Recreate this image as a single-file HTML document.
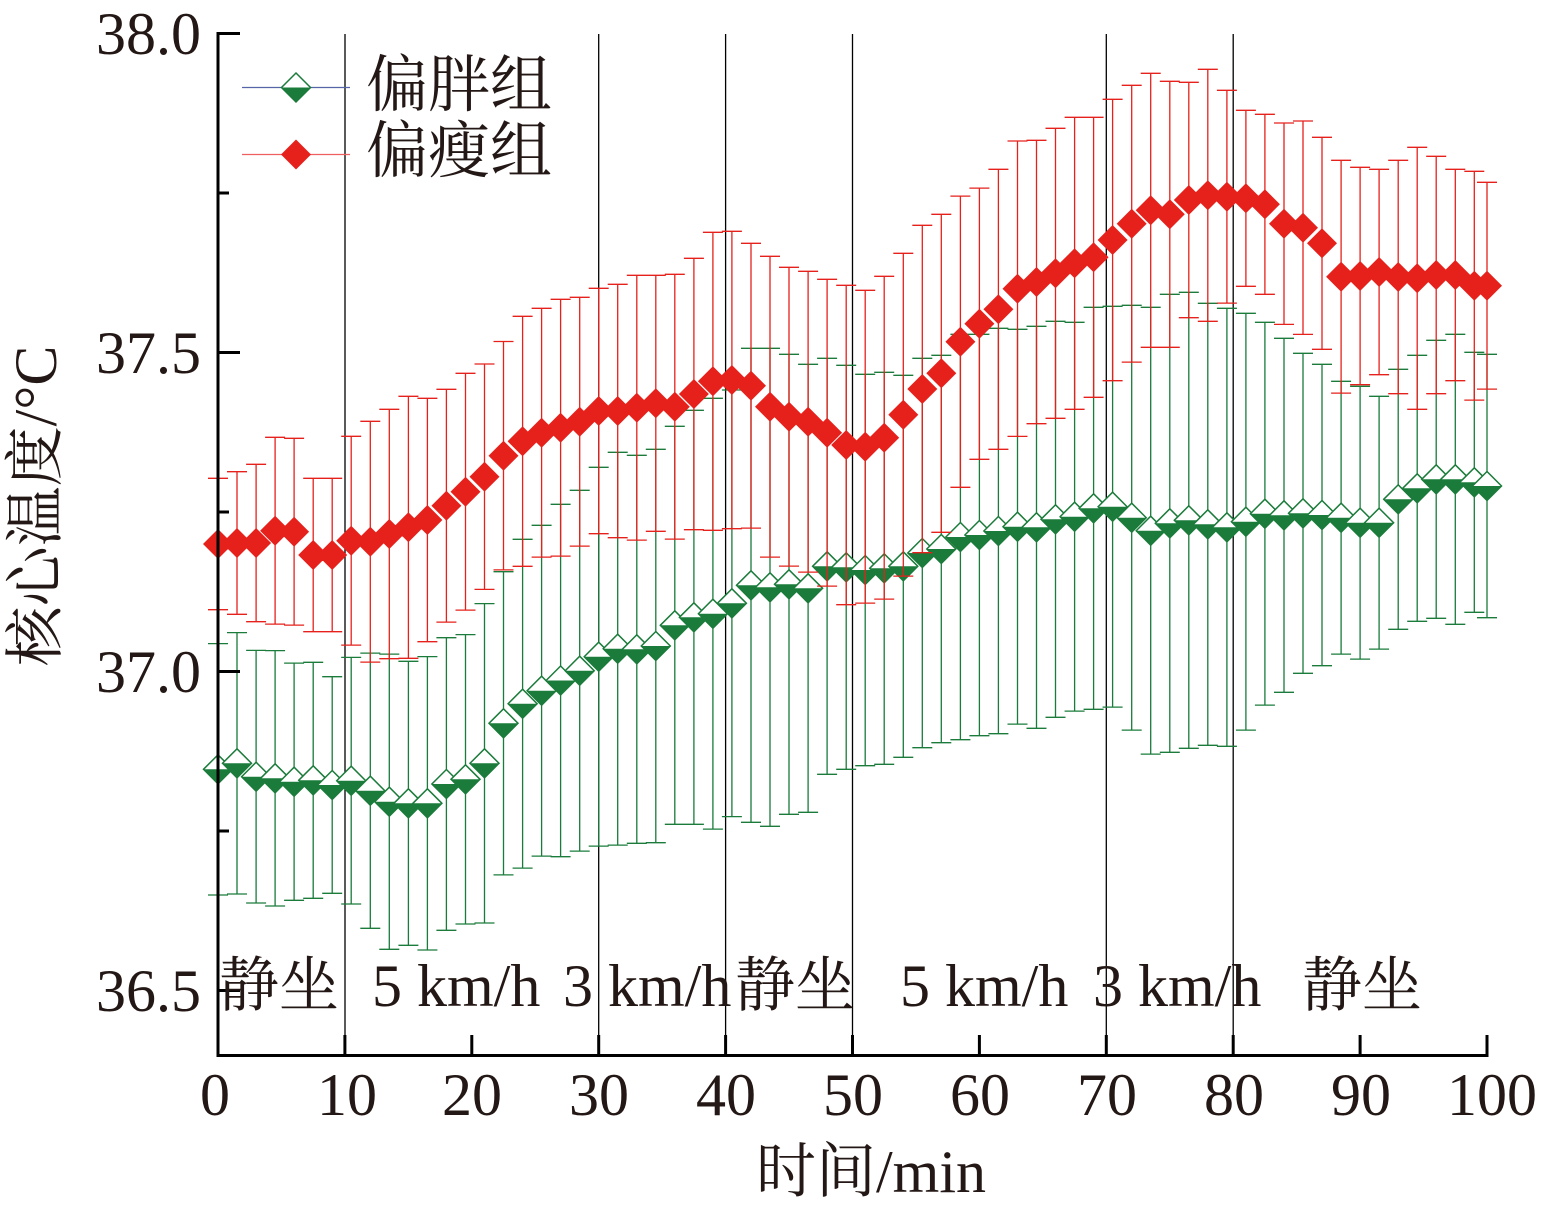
<!DOCTYPE html>
<html><head><meta charset="utf-8">
<style>html,body{margin:0;padding:0;background:#fff;overflow:hidden}svg{display:block}</style>
</head><body>
<svg id="c" width="1541" height="1213" xmlns="http://www.w3.org/2000/svg" font-family="'Liberation Serif','Noto Serif CJK SC',serif">
<rect width="1541" height="1213" fill="#fff"/>
<!-- phase divider lines -->
<g stroke="#000" stroke-width="1.3">
<line x1="345" y1="34" x2="345" y2="1055"/>
<line x1="598.7" y1="34" x2="598.7" y2="1055"/>
<line x1="725.6" y1="34" x2="725.6" y2="1055"/>
<line x1="852.5" y1="34" x2="852.5" y2="1055"/>
<line x1="1106.3" y1="34" x2="1106.3" y2="1055"/>
<line x1="1233.2" y1="34" x2="1233.2" y2="1055"/>
</g>
<g id="gs"></g>
<g id="rs"></g>
<!-- axes -->
<g stroke="#000" stroke-width="3" fill="none">
<line x1="218" y1="32" x2="218" y2="1057"/>
<line x1="216.5" y1="1055.5" x2="1488.5" y2="1055.5"/>
<line x1="218" y1="33.5" x2="240" y2="33.5"/>
<line x1="218" y1="352.5" x2="240" y2="352.5"/>
<line x1="218" y1="671.5" x2="240" y2="671.5"/>
<line x1="218" y1="990.5" x2="240" y2="990.5"/>
<line x1="218" y1="193" x2="229" y2="193"/>
<line x1="218" y1="512" x2="229" y2="512"/>
<line x1="218" y1="831" x2="229" y2="831"/>
<line x1="344.9" y1="1035" x2="344.9" y2="1055"/>
<line x1="471.8" y1="1035" x2="471.8" y2="1055"/>
<line x1="598.7" y1="1035" x2="598.7" y2="1055"/>
<line x1="725.6" y1="1035" x2="725.6" y2="1055"/>
<line x1="852.5" y1="1035" x2="852.5" y2="1055"/>
<line x1="979.4" y1="1035" x2="979.4" y2="1055"/>
<line x1="1106.3" y1="1035" x2="1106.3" y2="1055"/>
<line x1="1233.2" y1="1035" x2="1233.2" y2="1055"/>
<line x1="1360.1" y1="1035" x2="1360.1" y2="1055"/>
<line x1="1487" y1="1035" x2="1487" y2="1055"/>
</g>
<!-- y tick labels -->
<g fill="#231815" font-size="60" text-anchor="end">
<text x="201" y="54">38.0</text>
<text x="201" y="373">37.5</text>
<text x="201" y="692">37.0</text>
<text x="201" y="1011">36.5</text>
</g>
<!-- x tick labels -->
<g fill="#231815" font-size="60" text-anchor="middle">
<text x="215" y="1115">0</text>
<text x="347" y="1115">10</text>
<text x="472" y="1115">20</text>
<text x="599" y="1115">30</text>
<text x="726" y="1115">40</text>
<text x="853" y="1115">50</text>
<text x="980" y="1115">60</text>
<text x="1107" y="1115">70</text>
<text x="1234" y="1115">80</text>
<text x="1361" y="1115">90</text>
<text x="1492" y="1115">100</text>
</g>
<!-- phase labels -->
<g fill="#231815" font-size="60">
<text x="219" y="1006">静坐</text>
<text x="372" y="1006">5 km/h</text>
<text x="563" y="1006">3 km/h</text>
<text x="735" y="1006">静坐</text>
<text x="900" y="1006">5 km/h</text>
<text x="1093" y="1006">3 km/h</text>
<text x="1302" y="1006">静坐</text>
</g>
<!-- axis titles -->
<text x="871" y="1192" fill="#231815" font-size="60" text-anchor="middle">时间/min</text>
<text transform="translate(56,506) rotate(-90)" fill="#231815" font-size="60" text-anchor="middle">核心温度/°C</text>
<!-- legend -->
<line x1="242" y1="87.5" x2="350" y2="87.5" stroke="#5565a8" stroke-width="1.3"/>
<path d="M296 73 L310.5 87.5 L296 102 L281.5 87.5Z" fill="#fff" stroke="#1a7b3a" stroke-width="1.5"/>
<path d="M281.5 87.5 L310.5 87.5 L296 102Z" fill="#1a7b3a"/>
<line x1="242" y1="154.5" x2="350" y2="154.5" stroke="#ee6060" stroke-width="1.3"/>
<path d="M296 139.5 L311 154.5 L296 169.5 L281 154.5Z" fill="#e6211c"/>
<g fill="#231815" font-size="62">
<text x="366" y="106">偏胖组</text>
<text x="366" y="172">偏瘦组</text>
</g>
</svg>
<script>
(function(){
var R=[[544,478.3],[543,471.7],[543,464.3],[530.7,437.3],[531.7,438.3],[555,478.3],[555,478.3],[540.7,436.3],[541.7,421.3],[534,409.3],[527.3,396.3],[520,398.3],[505.7,389.3],[491.7,373.3],[476.7,364],[455.7,341.5],[441.3,316.3],[432.7,308.3],[427.7,299.3],[421.7,297.3],[411,288.3],[411,284.3],[407.7,275.3],[403.3,275.3],[406.7,274.3],[394,258.3],[381.3,232.3],[380,231.3],[385.7,243.3],[406.7,256.3],[416.7,267.3],[421.7,271.3],[432.7,279.3],[445,285.3],[446.7,290.3],[437.7,276.3],[414.7,253.3],[389,225.3],[373.3,214.3],[341.7,196.1],[323.7,188.1],[309.3,169.3],[288.7,141],[282,140.3],[273.3,128.3],[263.3,117.3],[257.3,117.3],[240,99.3],[223.7,85.3],[210.3,73.3],[214.3,81.3],[200,82.3],[195.3,69.3],[196.7,90.3],[198.3,110.3],[204.3,114.3],[223.7,123],[227.7,121],[243.3,137.3],[276.7,160.3],[276,167.3],[272,169.3],[277,160.3],[278.3,147.3],[275,156.3],[275,169.3],[285.7,171.3],[285.7,182.3]];
var G=[[769.3,643.6],[763.3,632.6],[776.7,650.4],[778.3,650.6],[781.7,663.1],[780.3,662.3],[785,676.7],[780.7,657.4],[790.7,653.1],[801.7,654.1],[803.3,661.3],[803.3,656.6],[784,637.7],[779.3,634.6],[763.3,603.6],[723.3,571.7],[703.7,539.3],[690.7,525.3],[680.5,504.3],[670.7,490.3],[656.7,467.3],[648.7,452.3],[649.3,455.3],[646,449.3],[625.3,426.3],[617.3,410.3],[613.7,398.3],[603.3,390],[585.3,348.3],[587.3,348.3],[584.3,354.3],[588.3,364.3],[566.3,358.3],[567.3,365.3],[570,374.3],[568.3,372.3],[566.3,375.3],[553,358.3],[549,355.3],[537,334.3],[535,334.3],[531,328.3],[526.7,329.3],[527.3,326.3],[519.3,321.3],[516.7,322.3],[508.3,307.3],[506.7,306.3],[517.7,305.3],[530.7,307.3],[523.3,294.3],[520.3,292.3],[524.3,303.3],[527.3,308.3],[521.7,313.3],[513.7,322.3],[515.3,338.3],[513.3,353.3],[515,364.3],[517.7,381.3],[522.7,386.3],[522.7,396.3],[499.3,369.3],[488.3,355.3],[479.3,340.3],[479.3,334.3],[482.3,352.3],[486,354.3]];
function X(i){return i==67?1487:218+i*19.035;}
function f(n){return n.toFixed(1);}
function bars(D){var s="";for(var i=0;i<D.length;i++){var x=X(i),c=D[i][0],t=D[i][1],b=2*c-t;
s+="M"+f(x)+" "+f(t)+"V"+f(b)+"M"+f(x-10)+" "+f(t)+"h20M"+f(x-10)+" "+f(b)+"h20";}return s;}
var NS="http://www.w3.org/2000/svg";
function el(p,tag,at){var e=document.createElementNS(NS,tag);for(var k in at)e.setAttribute(k,at[k]);p.appendChild(e);return e;}
var gs=document.getElementById("gs"),rs=document.getElementById("rs");
el(gs,"path",{d:bars(G),stroke:"#1a7b3a","stroke-width":"1.3",fill:"none"});
var h=14.5,o="",fl="";
for(var i=0;i<G.length;i++){var x=X(i),c=G[i][0];
o+="M"+f(x)+" "+f(c-h)+"L"+f(x+h)+" "+f(c)+"L"+f(x)+" "+f(c+h)+"L"+f(x-h)+" "+f(c)+"Z";
fl+="M"+f(x-h)+" "+f(c)+"L"+f(x+h)+" "+f(c)+"L"+f(x)+" "+f(c+h)+"Z";}
for(var i=0;i<G.length;i++){var x=X(i),c=G[i][0];
el(gs,"path",{d:"M"+f(x)+" "+f(c-h)+"L"+f(x+h)+" "+f(c)+"L"+f(x)+" "+f(c+h)+"L"+f(x-h)+" "+f(c)+"Z",fill:"#fff",stroke:"#1a7b3a","stroke-width":"1.5"});
el(gs,"path",{d:"M"+f(x-h)+" "+f(c)+"L"+f(x+h)+" "+f(c)+"L"+f(x)+" "+f(c+h)+"Z",fill:"#1a7b3a"});}
el(rs,"path",{d:bars(R),stroke:"#e6211c","stroke-width":"1.3",fill:"none"});
var hr=15,d="";
for(var i=0;i<R.length;i++){var x=X(i),c=R[i][0];
d+="M"+f(x)+" "+f(c-hr)+"L"+f(x+hr)+" "+f(c)+"L"+f(x)+" "+f(c+hr)+"L"+f(x-hr)+" "+f(c)+"Z";}
el(rs,"path",{d:d,fill:"#e6211c"});
})();
</script>
</body></html>
